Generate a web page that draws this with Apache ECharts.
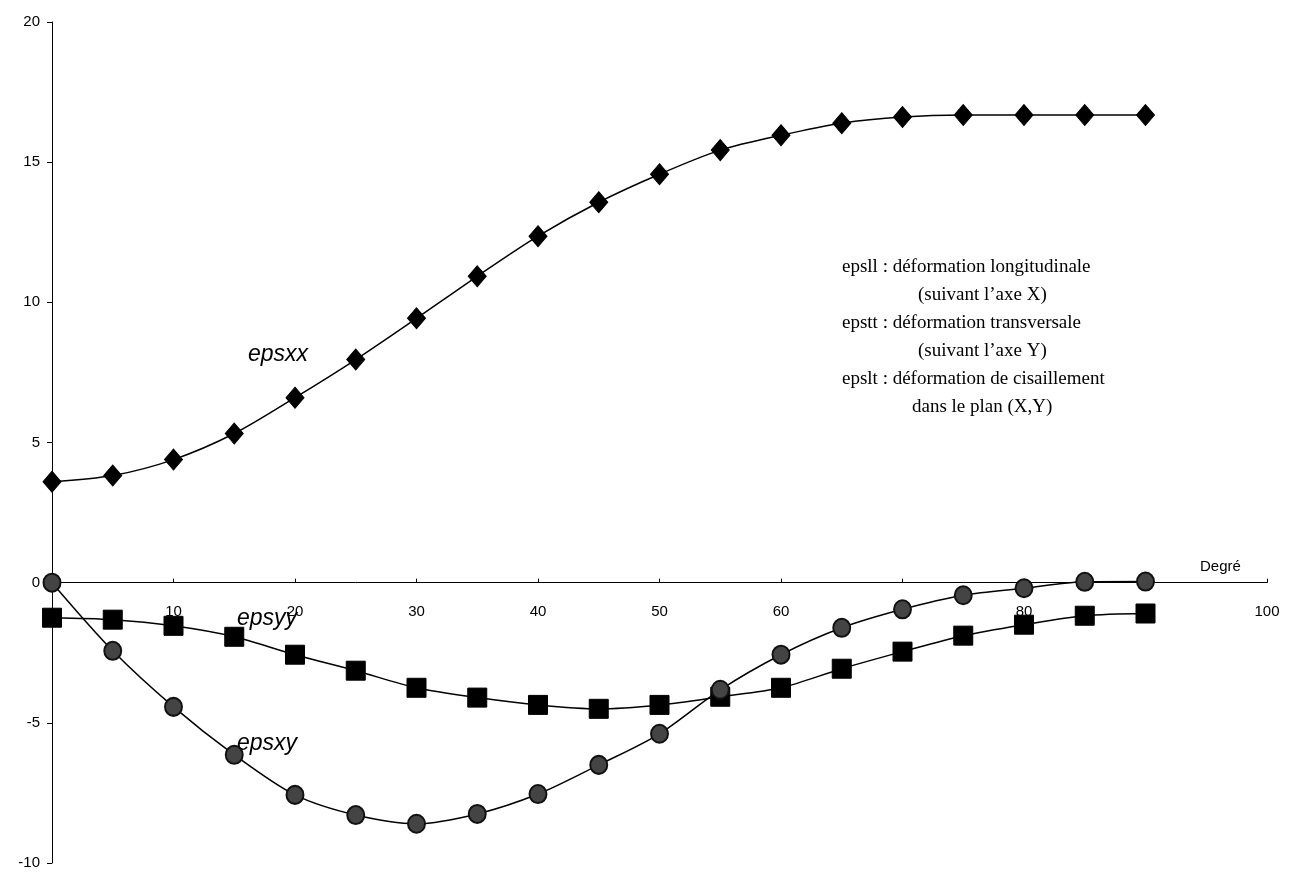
<!DOCTYPE html>
<html>
<head>
<meta charset="utf-8">
<script src="https://cdn.jsdelivr.net/npm/echarts@6/dist/echarts.min.js"></script>
<style>
html,body{margin:0;padding:0;background:#fff;}
#chart{width:1298px;height:873px;}
</style>
</head>
<body>
<div id="chart"></div>
<script>
// ---- data ----
var degrees = [0,5,10,15,20,25,30,35,40,45,50,55,60,65,70,75,80,85,90];
var epsxx = [3.6,3.82,4.39,5.32,6.6,7.96,9.43,10.93,12.36,13.57,14.57,15.43,15.96,16.39,16.61,16.68,16.68,16.68,16.68];
var epsyy = [-1.25,-1.32,-1.54,-1.93,-2.57,-3.14,-3.75,-4.1,-4.36,-4.5,-4.36,-4.07,-3.75,-3.07,-2.46,-1.89,-1.5,-1.18,-1.1];
var epsxy = [0,-2.43,-4.43,-6.14,-7.57,-8.29,-8.6,-8.25,-7.54,-6.5,-5.39,-3.82,-2.57,-1.61,-0.95,-0.45,-0.2,0.03,0.04];
var hiddenXTicks = [0,90];
var noteLines = [
  "epsll : déformation longitudinale",
  "(suivant l\u2019axe X)",
  "epstt : déformation transversale",
  "(suivant l\u2019axe Y)",
  "epslt : déformation de cisaillement",
  "dans le plan (X,Y)"
];

function pairs(ys){ return degrees.map(function(d,i){ return [d, ys[i]]; }); }

var chart = echarts.init(document.getElementById('chart'));
var lineStyle = {color:'#000', width:1.5};
var gridTop = 22, gridBottom = 10, H = 873;
var yMin = -10, yMax = 20;
var plotH = H - gridTop - gridBottom;
var zeroOffset = plotH * (0 - yMin) / (yMax - yMin);
var option = {
  animation:false,
  backgroundColor:'#fff',
  grid:{left:52, right:31, top:gridTop, bottom:gridBottom, containLabel:false, outerBoundsMode:'none'},
  xAxis:{
    type:'value', min:0, max:100, interval:10,
    offset:-zeroOffset,
    axisLine:{onZero:false, lineStyle:{color:'#000', width:1}},
    axisTick:{show:true, length:4, inside:true, lineStyle:{color:'#000'}},
    splitLine:{show:false},
    axisLabel:{margin:22, color:'#000', fontFamily:'Liberation Sans, Arial', fontSize:15,
      formatter:function(v){ return hiddenXTicks.indexOf(v) >= 0 ? '' : String(v); }}
  },
  yAxis:{
    type:'value', min:yMin, max:yMax, interval:5,
    axisLine:{show:true, onZero:false, lineStyle:{color:'#000', width:1}},
    axisTick:{show:true, length:5, lineStyle:{color:'#000'}},
    splitLine:{show:false},
    axisLabel:{margin:12, color:'#000', fontFamily:'Liberation Sans, Arial', fontSize:15}
  },
  graphic:[
    {type:'text', left:1200, top:559, style:{text:'Degré', fill:'#000', font:'15px "Liberation Sans", Arial'}},
    {type:'text', left:248, top:343, style:{text:'epsxx', fill:'#000', font:'italic 23px "Liberation Sans", Arial'}},
    {type:'text', left:237, top:607, style:{text:'epsyy', fill:'#000', font:'italic 23px "Liberation Sans", Arial'}},
    {type:'text', left:237, top:732, style:{text:'epsxy', fill:'#000', font:'italic 23px "Liberation Sans", Arial'}},
    {type:'text', left:842, top:258, style:{text:noteLines[0], fill:'#000', font:'19px "Liberation Serif", "Times New Roman", serif'}},
    {type:'text', left:918, top:286, style:{text:noteLines[1], fill:'#000', font:'19px "Liberation Serif", "Times New Roman", serif'}},
    {type:'text', left:842, top:314, style:{text:noteLines[2], fill:'#000', font:'19px "Liberation Serif", "Times New Roman", serif'}},
    {type:'text', left:918, top:342, style:{text:noteLines[3], fill:'#000', font:'19px "Liberation Serif", "Times New Roman", serif'}},
    {type:'text', left:842, top:370, style:{text:noteLines[4], fill:'#000', font:'19px "Liberation Serif", "Times New Roman", serif'}},
    {type:'text', left:912, top:398, style:{text:noteLines[5], fill:'#000', font:'19px "Liberation Serif", "Times New Roman", serif'}}
  ],
  series:[
    {name:'epsxx', type:'line', smooth:0.3, data:pairs(epsxx), symbol:'diamond', symbolSize:[18,21],
     itemStyle:{color:'#000', borderColor:'#000'}, lineStyle:lineStyle},
    {name:'epsyy', type:'line', smooth:0.3, data:pairs(epsyy), symbol:'rect', symbolSize:19,
     itemStyle:{color:'#000', borderColor:'#000'}, lineStyle:lineStyle},
    {name:'epsxy', type:'line', smooth:0.3, data:pairs(epsxy), symbol:'circle', symbolSize:[17,18],
     itemStyle:{color:'#444', borderColor:'#111', borderWidth:2}, lineStyle:lineStyle}
  ]
};
chart.setOption(option);
</script>
</body>
</html>
